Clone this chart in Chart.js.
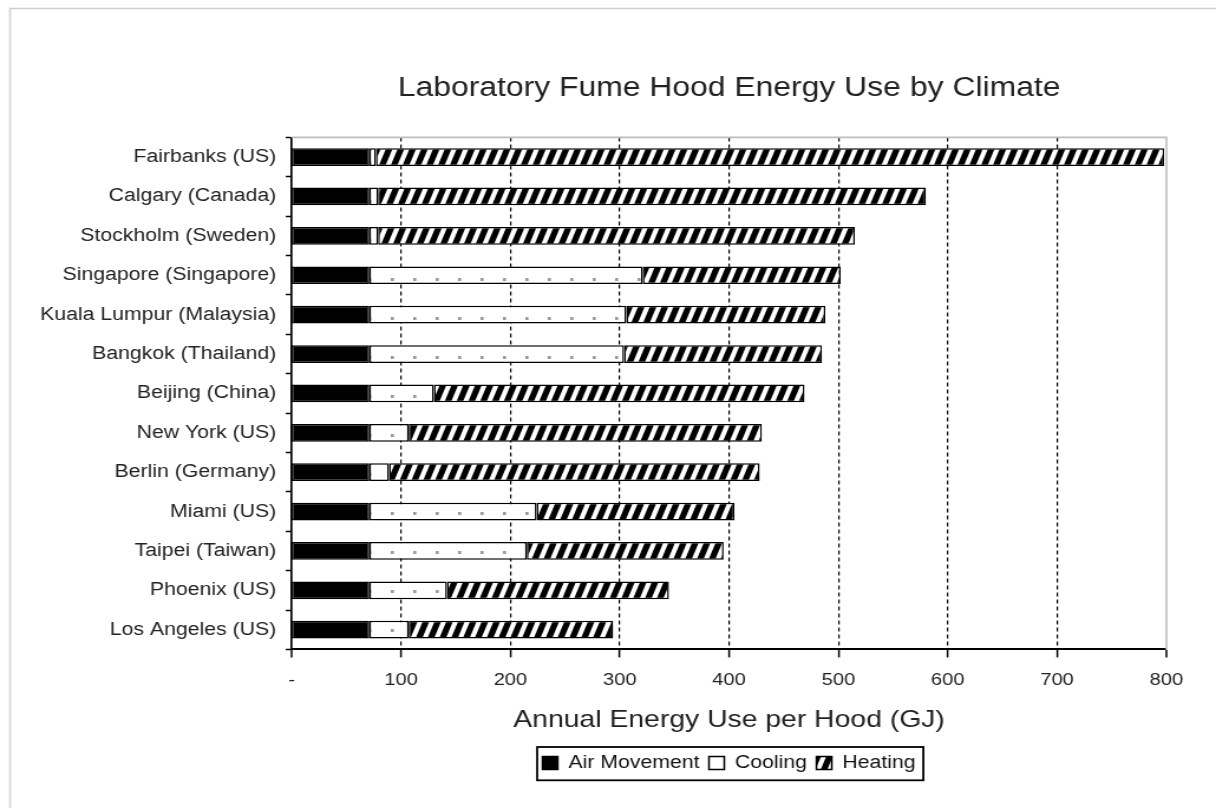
<!DOCTYPE html>
<html>
<head>
<meta charset="utf-8">
<script src="https://cdn.jsdelivr.net/npm/chart.js@4.4.1/dist/chart.umd.min.js"></script>
<style>
html,body{margin:0;padding:0;background:#fff;overflow:hidden;width:1216px;height:808px;}
#wrap{position:absolute;left:0;top:0;width:1030px;height:808px;transform:scaleX(1.180583);transform-origin:0 0;}
#c{display:block;}
</style>
</head>
<body>
<div id="wrap"><canvas id="c" width="1030" height="808"></canvas></div>
<script>
const categories = [
  'Fairbanks (US)', 'Calgary (Canada)', 'Stockholm (Sweden)', 'Singapore (Singapore)',
  'Kuala Lumpur (Malaysia)', 'Bangkok (Thailand)', 'Beijing (China)', 'New York (US)',
  'Berlin (Germany)', 'Miami (US)', 'Taipei (Taiwan)', 'Phoenix (US)', 'Los Angeles (US)'
];
const airMovement = [71, 71, 71, 71, 71, 71, 71, 71, 71, 71, 71, 71, 71];
const cooling     = [6, 8, 8, 250, 235, 233, 59, 36, 18, 153, 144, 71, 36];
const heating     = [721, 501, 436, 181, 182, 181, 339, 323, 339, 181, 180, 203, 187];
const seriesNames = ['Air Movement', 'Cooling', 'Heating'];
const xTickLabels = ['-', '100', '200', '300', '400', '500', '600', '700', '800'];
const chartTitle = 'Laboratory Fume Hood Energy Use by Climate';
const xAxisTitle = 'Annual Energy Use per Hood (GJ)';

function makeHatch() {
  const w = 10, h = 28;
  const t = document.createElement('canvas');
  t.width = w; t.height = h;
  const g = t.getContext('2d');
  g.fillStyle = '#fff'; g.fillRect(0, 0, w, h);
  g.fillStyle = '#000';
  for (let k = -1; k <= 1; k++) {
    g.beginPath();
    g.moveTo(k * w, h);
    g.lineTo(k * w + 5.6, h);
    g.lineTo(k * w + w + 5.6, 0);
    g.lineTo(k * w + w, 0);
    g.closePath();
    g.fill();
  }
  return g.createPattern(t, 'repeat');
}
function makeDots() {
  const t = document.createElement('canvas');
  t.width = 19; t.height = 13;
  const g = t.getContext('2d');
  g.fillStyle = '#fff'; g.fillRect(0, 0, 19, 13);
  g.fillStyle = '#999';
  g.fillRect(8, 5, 2.6, 3);
  return g.createPattern(t, 'repeat');
}

const FONT = '"Liberation Sans", Arial, Helvetica, sans-serif';
Chart.defaults.font.family = FONT;
Chart.defaults.color = '#222';

const framePlugin = {
  id: 'frames',
  beforeDraw(chart) {
    const c = chart.ctx;
    c.save();
    c.strokeStyle = '#d0d0d0';
    c.lineWidth = 1.5;
    c.beginPath();
    c.moveTo(8.5, 808); c.lineTo(8.5, 8.5); c.lineTo(1030, 8.5);
    c.stroke();
    c.restore();
  },
  beforeDatasetsDraw(chart) {
    const c = chart.ctx, a = chart.chartArea;
    c.save();
    c.strokeStyle = '#bdbdbd';
    c.lineWidth = 1.6;
    c.beginPath();
    c.moveTo(a.left, a.top); c.lineTo(a.right, a.top); c.lineTo(a.right, a.bottom);
    c.stroke();
    c.restore();
  },
  afterDraw(chart) {
    const L = chart.legend;
    if (!L || !L.legendHitBoxes || !L.legendHitBoxes.length) return;
    let l = Infinity, r = -Infinity, t = Infinity;
    L.legendHitBoxes.forEach(h => {
      l = Math.min(l, h.left); r = Math.max(r, h.left + h.width); t = Math.min(t, h.top);
    });
    const c = chart.ctx;
    c.save();
    c.strokeStyle = '#000';
    c.lineWidth = 1.8;
    c.strokeRect(l - 4.5, t - 7, r - l + 11, 33.3);
    c.restore();
  }
};

const hatch = makeHatch();
const dots = makeDots();

new Chart(document.getElementById('c'), {
  type: 'bar',
  data: {
    labels: categories,
    datasets: [
      { label: seriesNames[0], data: airMovement, backgroundColor: '#000', borderColor: '#000', borderWidth: 1.5, borderSkipped: false },
      { label: seriesNames[1], data: cooling, backgroundColor: dots, borderColor: '#000', borderWidth: 1.5, borderSkipped: false },
      { label: seriesNames[2], data: heating, backgroundColor: hatch, borderColor: '#000', borderWidth: 1.5, borderSkipped: false }
    ]
  },
  options: {
    indexAxis: 'y',
    responsive: false,
    animation: false,
    devicePixelRatio: 1,
    layout: { padding: { left: 26, right: 42, top: 0, bottom: 26 } },
    datasets: { bar: { categoryPercentage: 1, barPercentage: 0.45 } },
    scales: {
      x: {
        stacked: true, min: 0, max: 800, position: 'bottom',
        ticks: { stepSize: 100, padding: 12.3, color: '#222', font: { size: 17 },
                 callback: (v, i) => xTickLabels[i] },
        grid: {
          color: '#000',
          lineWidth: c => (c.tick && (c.tick.value === 0 || c.tick.value === 800)) ? 0 : 1.2,
          tickLength: 8, tickColor: '#000', tickWidth: 1.5
        },
        border: { display: true, color: '#000', width: 2, dash: [4, 3] },
        title: { display: true, text: xAxisTitle, color: '#222', font: { size: 24, lineHeight: 1.0 },
                 padding: { top: 6, bottom: 13.6 } }
      },
      y: {
        stacked: true,
        ticks: { padding: 8, color: '#222', font: { size: 18 } },
        grid: { drawOnChartArea: false, tickLength: 5, tickColor: '#000', tickWidth: 1.5, color: '#000' },
        border: { display: true, color: '#000', width: 1.7 }
      }
    },
    plugins: {
      title: { display: true, text: chartTitle, fullSize: false, color: '#222',
               font: { size: 27, weight: 'normal' }, padding: { top: 72, bottom: 33 } },
      legend: { position: 'bottom', fullSize: false,
                labels: { boxWidth: 13, boxHeight: 13, padding: 8, color: '#111', font: { size: 18 } } },
      tooltip: { enabled: false }
    }
  },
  plugins: [framePlugin]
});
</script>
</body>
</html>
